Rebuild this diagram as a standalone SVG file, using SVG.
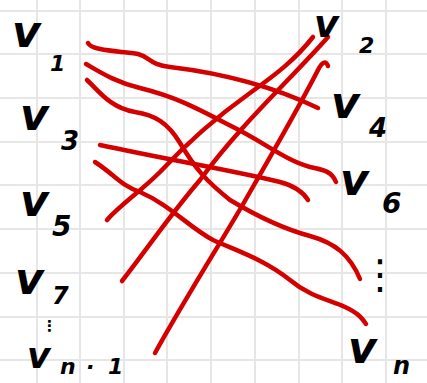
<svg xmlns="http://www.w3.org/2000/svg" width="427" height="383" viewBox="0 0 427 383">
<style>
.grid line{stroke:#e6e6e6;stroke-width:2}
.edge{fill:none;stroke:#d40000;stroke-width:4.5;stroke-linecap:round;stroke-linejoin:round}
.lbl{font-family:"DejaVu Sans",sans-serif;font-weight:bold;font-style:italic;fill:#000}
.v{font-size:44px}
</style>
<rect width="427" height="383" fill="#fff"/>
<g class="grid">
<line x1="37" y1="0" x2="37" y2="383"/><line x1="80" y1="0" x2="80" y2="383"/><line x1="124" y1="0" x2="124" y2="383"/><line x1="167" y1="0" x2="167" y2="383"/><line x1="211" y1="0" x2="211" y2="383"/><line x1="255" y1="0" x2="255" y2="383"/><line x1="299" y1="0" x2="299" y2="383"/><line x1="342" y1="0" x2="342" y2="383"/><line x1="386" y1="0" x2="386" y2="383"/>
<line x1="0" y1="11" x2="427" y2="11"/><line x1="0" y1="54" x2="427" y2="54"/><line x1="0" y1="98" x2="427" y2="98"/><line x1="0" y1="142" x2="427" y2="142"/><line x1="0" y1="185" x2="427" y2="185"/><line x1="0" y1="229" x2="427" y2="229"/><line x1="0" y1="273" x2="427" y2="273"/><line x1="0" y1="317" x2="427" y2="317"/><line x1="0" y1="360" x2="427" y2="360"/>
</g>
<g id="connectors">
<path class="edge" d="M88,43 C92,51 120,51 138,54 C150,57 150,65 170,67 C220,73 270,85 318,108"/>
<path class="edge" d="M86,64 C100,72 115,82 140,88 C180,98 200,110 235,128 C265,143 285,160 310,167 C325,170 332,172 336,182"/>
<path class="edge" d="M87,80 C98,90 110,108 135,112 C155,115 168,123 180,143 C195,168 205,180 230,200 C255,215 280,228 310,236 C335,243 350,255 360,279"/>
<path class="edge" d="M100,145 C170,160 240,172 280,182 C295,186 303,192 308,200"/>
<path class="edge" d="M95,162 C115,175 120,185 140,192 C170,205 190,228 213,240 C240,252 265,260 290,280 C310,297 330,300 345,307 C358,313 362,318 366,324"/>
<path class="edge" d="M313,37 C295,60 275,75 250,93 C215,118 185,145 160,172 C140,192 120,205 107,220"/>
<path class="edge" d="M328,37 C290,80 240,125 200,180 C170,215 150,245 122,281"/>
<path class="edge" d="M328,66 C326,60 322,62 318,70 C300,105 280,140 250,192 C230,228 190,290 155,353"/>
</g>
<g id="v1"><text class="lbl"><tspan class="v" x="12" y="47">v</tspan><tspan x="50" y="71" font-size="22">1</tspan></text></g>
<g id="v3"><text class="lbl"><tspan class="v" x="20" y="130">v</tspan><tspan x="61" y="150" font-size="26">3</tspan></text></g>
<g id="v5"><text class="lbl"><tspan class="v" x="20" y="216">v</tspan><tspan x="52" y="236" font-size="28">5</tspan></text></g>
<g id="v7"><text class="lbl"><tspan class="v" x="15" y="294">v</tspan><tspan x="52" y="304" font-size="24">7</tspan></text></g>
<g id="dots-left"><text class="lbl" x="42" y="331" font-size="15">⋮</text></g>
<g id="vn-1"><text class="lbl"><tspan x="27" y="368" font-size="36">v</tspan><tspan x="60 86 108" y="374" font-size="22">n·1</tspan></text></g>
<g id="v2"><text class="lbl"><tspan x="314" y="37" font-size="38">v</tspan><tspan x="359" y="53" font-size="22">2</tspan></text></g>
<g id="v4"><text class="lbl"><tspan class="v" x="331" y="118">v</tspan><tspan x="369" y="137" font-size="26">4</tspan></text></g>
<g id="v6"><text class="lbl"><tspan class="v" x="340" y="195">v</tspan><tspan x="382" y="213" font-size="28">6</tspan></text></g>
<g id="dots-right"><text x="360" y="288" font-family="DejaVu Sans, sans-serif" font-size="40" fill="#000">⋮</text></g>
<g id="vn"><text class="lbl"><tspan class="v" x="348" y="363">v</tspan><tspan x="393" y="374" font-size="24">n</tspan></text></g>
</svg>
